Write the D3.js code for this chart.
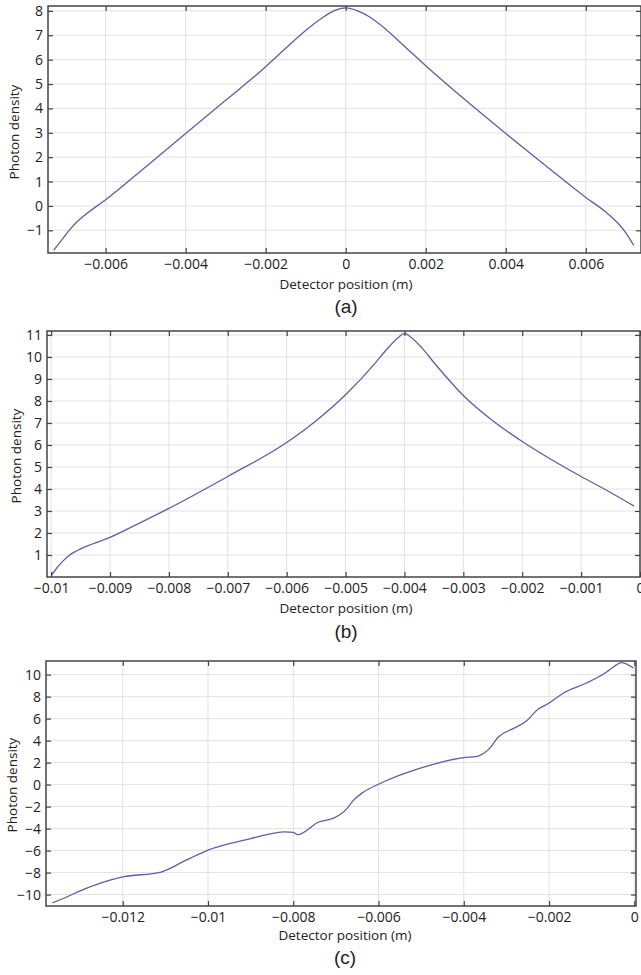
<!DOCTYPE html>
<html>
<head>
<meta charset="utf-8">
<script src="https://cdn.jsdelivr.net/npm/d3@7"></script>
<style>
  body { margin: 0; background: #fff; }
  svg { display: block; }
  .tick text { font-family: "Open Sans", sans-serif; font-size: 14px; fill: #222; }
  .axis-label { font-family: "Open Sans", sans-serif; font-size: 13.5px; fill: #222; }
  .panel-label { font-family: "Liberation Sans", Arial, sans-serif; font-size: 19px; fill: #222; }
</style>
</head>
<body>
<svg width="641" height="975"></svg>
<script>
// panel (a)
const xA = [-0.0073, -0.0071, -0.0069, -0.0067, -0.0065, -0.006, -0.005, -0.004, -0.003, -0.002, -0.0015, -0.001, -0.0006, -0.0003, 0,
            0.0003, 0.0006, 0.001, 0.0015, 0.002, 0.003, 0.004, 0.005, 0.006, 0.0065, 0.0068, 0.007, 0.0072];
const yA = [-1.82, -1.4, -0.98, -0.63, -0.35, 0.25, 1.6, 2.97, 4.33, 5.71, 6.47, 7.2, 7.7, 8.0, 8.12,
            8.0, 7.75, 7.25, 6.5, 5.75, 4.33, 2.97, 1.65, 0.35, -0.25, -0.7, -1.1, -1.62];
const xTicksA = [-0.006, -0.004, -0.002, 0, 0.002, 0.004, 0.006];
const yTicksA = [-1, 0, 1, 2, 3, 4, 5, 6, 7, 8];

// panel (b)
const xB = [-0.01, -0.0099, -0.0098, -0.0097, -0.0096, -0.0095, -0.0093, -0.009, -0.0085, -0.008, -0.007, -0.006, -0.0055,
            -0.005, -0.0045, -0.0043, -0.0041, -0.004, -0.0039, -0.0037, -0.0035, -0.003, -0.0025, -0.002, -0.0015,
            -0.001, -0.0005, -0.0001];
const yB = [0.06, 0.42, 0.72, 0.97, 1.14, 1.28, 1.5, 1.8, 2.45, 3.12, 4.57, 6.11, 7.1,
            8.28, 9.71, 10.35, 10.9, 11.07, 10.92, 10.4, 9.75, 8.25, 7.1, 6.16, 5.33,
            4.57, 3.84, 3.22];
const xTicksB = [-0.01, -0.009, -0.008, -0.007, -0.006, -0.005, -0.004, -0.003, -0.002, -0.001, 0];
const yTicksB = [1, 2, 3, 4, 5, 6, 7, 8, 9, 10, 11];

// panel (c)
const xC = [-0.01365, -0.0133, -0.013, -0.012, -0.0111, -0.0105, -0.01, -0.009, -0.0085, -0.0082, -0.008, -0.0079,
            -0.0074, -0.00704, -0.00674, -0.00659, -0.00635, -0.006, -0.005, -0.004, -0.00369, -0.0034, -0.00319,
            -0.00284, -0.00251, -0.00229, -0.002, -0.00166, -0.00112, -0.00065, -0.00049, -0.00031, -0.00002];
const yC = [-10.76, -10.2, -9.67, -8.4, -7.95, -6.85, -5.95, -4.91, -4.45, -4.3, -4.35, -4.55,
            -3.4, -3.03, -2.18, -1.43, -0.67, 0.03, 1.51, 2.45, 2.57, 3.27, 4.33,
            5.09, 5.85, 6.75, 7.42, 8.33, 9.24, 10.24, 10.7, 11.09, 10.6];
const xTicksC = [-0.012, -0.01, -0.008, -0.006, -0.004, -0.002, 0];
const yTicksC = [-10, -8, -6, -4, -2, 0, 2, 4, 6, 8, 10];

const svg = d3.select('svg');
const minus = s => s.replace('-', '\u2212');
const fmtX = d => minus(d === 0 ? '0' : String(+d.toFixed(4)));
const fmtY = d => minus(String(d));

const drawPanel = (p) => {
    const x = d3.scaleLinear().domain(p.xDomain).range([p.left, p.right]);
    const y = d3.scaleLinear().domain(p.yDomain).range([p.bottom, p.top]);
    const g = svg.append('g');

    // grid
    g.append('g').selectAll('line')
        .data(p.xTicks).enter().append('line')
        .attr('x1', d => x(d)).attr('x2', d => x(d))
        .attr('y1', p.top).attr('y2', p.bottom)
        .attr('stroke', '#e2e2e2');
    g.append('g').selectAll('line')
        .data(p.yTicks).enter().append('line')
        .attr('y1', d => y(d)).attr('y2', d => y(d))
        .attr('x1', p.left).attr('x2', p.right)
        .attr('stroke', '#e2e2e2');

    // curve
    const pts = p.xs.map((v, i) => [v, p.ys[i]]);
    g.append('path')
        .attr('d', d3.line().x(d => x(d[0])).y(d => y(d[1])).curve(d3.curveMonotoneX)(pts))
        .attr('fill', 'none')
        .attr('stroke', '#5f5fa3')
        .attr('stroke-width', 1.3);

    // axes with inward ticks
    const axisStyle = a => {
        a.select('.domain').remove();
        a.selectAll('.tick line').attr('stroke', '#444').attr('stroke-width', 1.2);
    };
    g.append('g').attr('transform', `translate(0,${p.bottom})`)
        .call(d3.axisBottom(x).tickValues(p.xTicks).tickFormat(fmtX).tickSizeInner(-5).tickPadding(6))
        .call(axisStyle);
    g.append('g').attr('transform', `translate(0,${p.top})`)
        .call(d3.axisTop(x).tickValues(p.xTicks).tickFormat('').tickSizeInner(-5))
        .call(axisStyle);
    g.append('g').attr('transform', `translate(${p.left},0)`)
        .call(d3.axisLeft(y).tickValues(p.yTicks).tickFormat(fmtY).tickSizeInner(-5).tickPadding(5))
        .call(axisStyle);
    g.append('g').attr('transform', `translate(${p.right},0)`)
        .call(d3.axisRight(y).tickValues(p.yTicks).tickFormat('').tickSizeInner(-5))
        .call(axisStyle);

    // frame
    g.append('rect')
        .attr('x', p.left).attr('y', p.top)
        .attr('width', p.right - p.left).attr('height', p.bottom - p.top)
        .attr('fill', 'none').attr('stroke', '#444').attr('stroke-width', 1.5);

    // labels
    g.append('text').attr('class', 'axis-label')
        .attr('x', p.labelX).attr('y', p.bottom + p.xLabelDy)
        .attr('text-anchor', 'middle')
        .text('Detector position (m)');
    g.append('text').attr('class', 'axis-label')
        .attr('transform', `translate(${p.yLabelX},${p.yLabelY}) rotate(-90)`)
        .attr('text-anchor', 'middle')
        .text('Photon density');
    g.append('text').attr('class', 'panel-label')
        .attr('x', p.labelX).attr('y', p.bottom + p.nameDy)
        .attr('text-anchor', 'middle')
        .text(p.name);
};

drawPanel({
    name: '(a)', xs: xA, ys: yA, xTicks: xTicksA, yTicks: yTicksA,
    xDomain: [-0.00744, 0.00738], yDomain: [-1.93, 8.2],
    left: 48, right: 641, top: 6, bottom: 253,
    labelX: 346, xLabelDy: 36, nameDy: 60, yLabelX: 19, yLabelY: 132
});
drawPanel({
    name: '(b)', xs: xB, ys: yB, xTicks: xTicksB, yTicks: yTicksB,
    xDomain: [-0.01007, 0], yDomain: [0, 11.18],
    left: 47, right: 640, top: 331, bottom: 577,
    labelX: 346, xLabelDy: 36, nameDy: 61, yLabelX: 21, yLabelY: 456
});
drawPanel({
    name: '(c)', xs: xC, ys: yC, xTicks: xTicksC, yTicks: yTicksC,
    xDomain: [-0.0138, 0.00004], yDomain: [-11.04, 11.24],
    left: 46, right: 636, top: 661, bottom: 906,
    labelX: 345, xLabelDy: 34, nameDy: 58, yLabelX: 17, yLabelY: 785
});
</script>
</body>
</html>
